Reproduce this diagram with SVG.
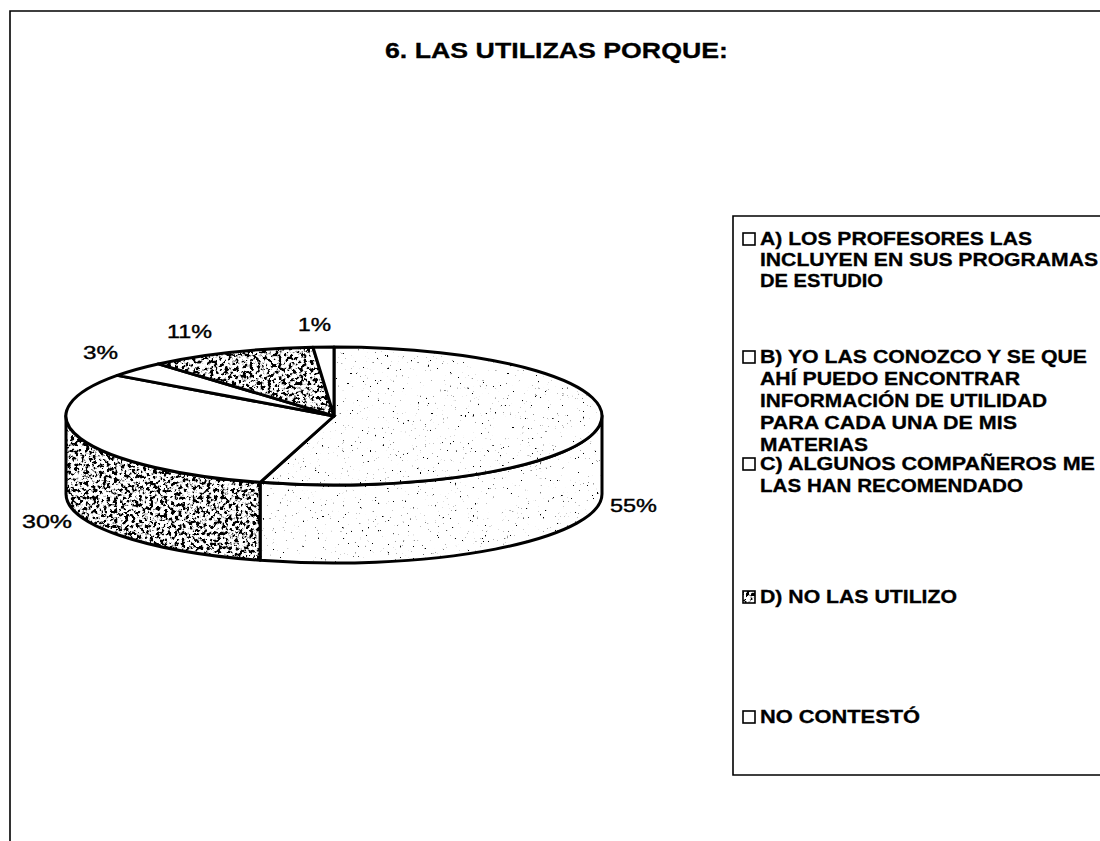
<svg xmlns="http://www.w3.org/2000/svg" xmlns:xlink="http://www.w3.org/1999/xlink" width="1100" height="841" viewBox="0 0 1100 841">
<style>
.edge{fill:none;stroke:#000;stroke-width:3;stroke-linejoin:round}
.white{fill:#fff;stroke:none}
.light{fill:#fff;stroke:none;filter:url(#lightTex)}
.dark{fill:#fff;stroke:none;filter:url(#darkTex)}
.lbl{font-family:"Liberation Sans",Arial,sans-serif;font-size:19px;fill:#000;stroke:#000;stroke-width:0.4}
.leg{font-family:"Liberation Sans",Arial,sans-serif;font-size:18px;font-weight:bold;fill:#000;stroke:#000;stroke-width:0.3}
.title{font-family:"Liberation Sans",Arial,sans-serif;font-size:22px;font-weight:bold;fill:#000;stroke:#000;stroke-width:0.3}
.box{fill:#fff;stroke:#000;stroke-width:1.6}
.frame{fill:none;stroke:#000;stroke-width:1.6}
</style>
<defs>
<filter id="darkTex" x="0" y="0" width="1" height="1">
<feTurbulence type="fractalNoise" baseFrequency="0.28" numOctaves="3" seed="4" result="n"/>
<feColorMatrix in="n" type="matrix" values="0 0 0 0 0  0 0 0 0 0  0 0 0 0 0  9 0 0 0 -4.3" result="m"/>
<feComposite in="m" in2="SourceGraphic" operator="in" result="c"/>
<feMerge><feMergeNode in="SourceGraphic"/><feMergeNode in="c"/></feMerge>
</filter>
<filter id="lightTex" x="0" y="0" width="1" height="1">
<feTurbulence type="fractalNoise" baseFrequency="0.4" numOctaves="2" seed="9" result="n"/>
<feColorMatrix in="n" type="matrix" values="0 0 0 0 0  0 0 0 0 0  0 0 0 0 0  14 0 0 0 -10.0" result="m"/>
<feComposite in="m" in2="SourceGraphic" operator="in" result="c"/>
<feMerge><feMergeNode in="SourceGraphic"/><feMergeNode in="c"/></feMerge>
</filter>
<path id="side55" d="M602,416 A268,69 0 0 1 260.13,482.33 L260.13,560.33 A268,69 0 0 0 602,494 Z"/>
<path id="side30" d="M260.13,482.33 A268,69 0 0 1 66,416 L66,494 A268,69 0 0 0 260.13,560.33 Z"/>
<path id="top55" d="M334,416 L334,347 A268,69 0 1 1 260.13,482.33 Z"/>
<path id="top30" d="M334,416 L260.13,482.33 A268,69 0 0 1 117.2,375.4 Z"/>
<path id="top3" d="M334,416 L117.2,375.4 A268,69 0 0 1 158.18,363.92 Z"/>
<path id="top11" d="M334,416 L158.18,363.92 A268,69 0 0 1 312.97,347.21 Z"/>
<path id="top1" d="M334,416 L312.97,347.21 A268,69 0 0 1 334,347 Z"/>
</defs>
<rect width="1100" height="841" fill="#fff"/>
<g id="frame">
<path class="frame" d="M10,841 L10,11 L1100,11"/>
</g>
<g id="title">
<text class="title" x="385" y="58" textLength="343" lengthAdjust="spacingAndGlyphs">6. LAS UTILIZAS PORQUE:</text>
</g>
<g id="pie">
<g id="slice-a-55">
<use xlink:href="#side55" class="light"/>
<use xlink:href="#side55" class="edge"/>
<use xlink:href="#top55" class="light"/>
<use xlink:href="#top55" class="edge"/>
</g>
<g id="slice-b-30">
<use xlink:href="#side30" class="dark"/>
<use xlink:href="#side30" class="edge"/>
<use xlink:href="#top30" class="white"/>
<use xlink:href="#top30" class="edge"/>
</g>
<g id="slice-c-3">
<use xlink:href="#top3" class="white"/>
<use xlink:href="#top3" class="edge"/>
</g>
<g id="slice-d-11">
<use xlink:href="#top11" class="dark"/>
<use xlink:href="#top11" class="edge"/>
</g>
<g id="slice-nc-1">
<use xlink:href="#top1" class="white"/>
<use xlink:href="#top1" class="edge"/>
</g>
</g>
<g id="labels">
<text id="lbl-55" class="lbl" x="610" y="512" textLength="47" lengthAdjust="spacingAndGlyphs">55%</text>
<text id="lbl-30" class="lbl" x="22" y="528" textLength="50" lengthAdjust="spacingAndGlyphs">30%</text>
<text id="lbl-3" class="lbl" x="83" y="359" textLength="35" lengthAdjust="spacingAndGlyphs">3%</text>
<text id="lbl-11" class="lbl" x="167" y="338" textLength="45" lengthAdjust="spacingAndGlyphs">11%</text>
<text id="lbl-1" class="lbl" x="298" y="331" textLength="33" lengthAdjust="spacingAndGlyphs">1%</text>
</g>
<g id="legend">
<path class="frame" d="M1100,216 L733,216 L733,775 L1100,775"/>
<g id="leg-a">
<rect class="box" x="743" y="233" width="12" height="12"/>
<text class="leg" x="760" y="245" textLength="272" lengthAdjust="spacingAndGlyphs">A) LOS PROFESORES LAS</text>
<text class="leg" x="760" y="266" textLength="338" lengthAdjust="spacingAndGlyphs">INCLUYEN EN SUS PROGRAMAS</text>
<text class="leg" x="760" y="287" textLength="123" lengthAdjust="spacingAndGlyphs">DE ESTUDIO</text>
</g>
<g id="leg-b">
<rect class="box" x="743" y="351" width="12" height="12"/>
<text class="leg" x="760" y="363" textLength="327" lengthAdjust="spacingAndGlyphs">B) YO LAS CONOZCO Y SE QUE</text>
<text class="leg" x="760" y="385" textLength="260" lengthAdjust="spacingAndGlyphs">AHÍ PUEDO ENCONTRAR</text>
<text class="leg" x="760" y="407" textLength="287" lengthAdjust="spacingAndGlyphs">INFORMACIÓN DE UTILIDAD</text>
<text class="leg" x="760" y="429" textLength="257" lengthAdjust="spacingAndGlyphs">PARA CADA UNA DE MIS</text>
<text class="leg" x="760" y="451" textLength="108" lengthAdjust="spacingAndGlyphs">MATERIAS</text>
</g>
<g id="leg-c">
<rect class="box" x="743" y="458" width="12" height="12"/>
<text class="leg" x="760" y="470" textLength="335" lengthAdjust="spacingAndGlyphs">C) ALGUNOS COMPAÑEROS ME</text>
<text class="leg" x="760" y="492" textLength="263" lengthAdjust="spacingAndGlyphs">LAS HAN RECOMENDADO</text>
</g>
<g id="leg-d">
<rect x="743" y="591" width="12" height="12" class="dark"/>
<rect x="743" y="591" width="12" height="12" fill="none" stroke="#000" stroke-width="1.6"/>
<text class="leg" x="760" y="603" textLength="197" lengthAdjust="spacingAndGlyphs">D) NO LAS UTILIZO</text>
</g>
<g id="leg-nc">
<rect class="box" x="743" y="711" width="12" height="12"/>
<text class="leg" x="760" y="723" textLength="160" lengthAdjust="spacingAndGlyphs">NO CONTESTÓ</text>
</g>
</g>
</svg>
